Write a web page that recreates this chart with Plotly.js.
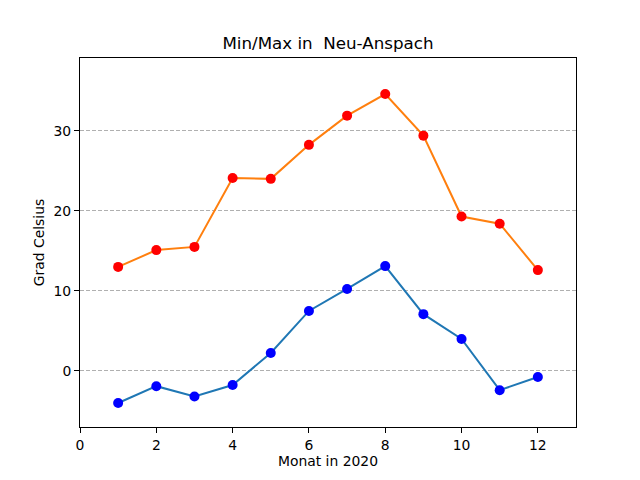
<!DOCTYPE html>
<html>
<head>
<meta charset="utf-8">
<script src="https://cdn.plot.ly/plotly-3.0.1.min.js"></script>
<style>html,body{margin:0;padding:0;background:#fff}#chart{width:640px;height:480px}</style>
</head>
<body>
<div id="chart"></div>
<script>
const months = [1, 2, 3, 4, 5, 6, 7, 8, 9, 10, 11, 12];
const tMin = [-4.0, -1.9, -3.2, -1.75, 2.25, 7.5, 10.25, 13.1, 7.1, 4.0, -2.4, -0.75];
const tMax = [13.0, 15.1, 15.5, 24.1, 24.0, 28.25, 31.9, 34.6, 29.4, 19.3, 18.4, 12.6];
const xTicks = [0, 2, 4, 6, 8, 10, 12];
const yTicks = [0, 10, 20, 30];

const font = {family: 'DejaVu Sans, sans-serif', color: '#000'};

const traces = [
  {x: months, y: tMin, mode: 'lines+markers', line: {color: '#1f77b4', width: 2},
   marker: {color: '#0000ff', size: 10}, showlegend: false},
  {x: months, y: tMax, mode: 'lines+markers', line: {color: '#ff7f0e', width: 2},
   marker: {color: '#ff0000', size: 10}, showlegend: false}
];

const layout = {
  width: 640, height: 480,
  margin: {l: 80, r: 64, t: 58, b: 53},
  paper_bgcolor: '#fff', plot_bgcolor: '#fff',
  font: Object.assign({size: 13.9}, font),
  title: {text: 'Min/Max in\u00a0\u00a0Neu-Anspach', font: Object.assign({size: 16.7}, font),
          x: 0.5, xref: 'paper', y: 1 - 43/480, yref: 'container', yanchor: 'middle'},
  xaxis: {range: [0, 13], tickvals: xTicks, ticks: 'outside', ticklen: 5, tickwidth: 1,
          tickcolor: '#000', showline: true, linecolor: '#000', linewidth: 1, mirror: true,
          showgrid: false, zeroline: false, tickfont: Object.assign({size: 13.9}, font),
          title: {text: 'Monat in 2020', font: Object.assign({size: 13.9}, font), standoff: 4}},
  yaxis: {range: [-7, 39.1], tickvals: yTicks, ticks: 'outside', ticklen: 5, tickwidth: 1,
          tickcolor: '#000', showline: true, linecolor: '#000', linewidth: 1, mirror: true,
          showgrid: true, gridcolor: '#b0b0b0', griddash: '4px,2px', gridwidth: 1,
          zeroline: false, tickfont: Object.assign({size: 13.9}, font),
          title: {text: 'Grad Celsius', font: Object.assign({size: 13.9}, font), standoff: 5}}
};

Plotly.newPlot('chart', traces, layout, {staticPlot: true});
</script>
</body>
</html>
